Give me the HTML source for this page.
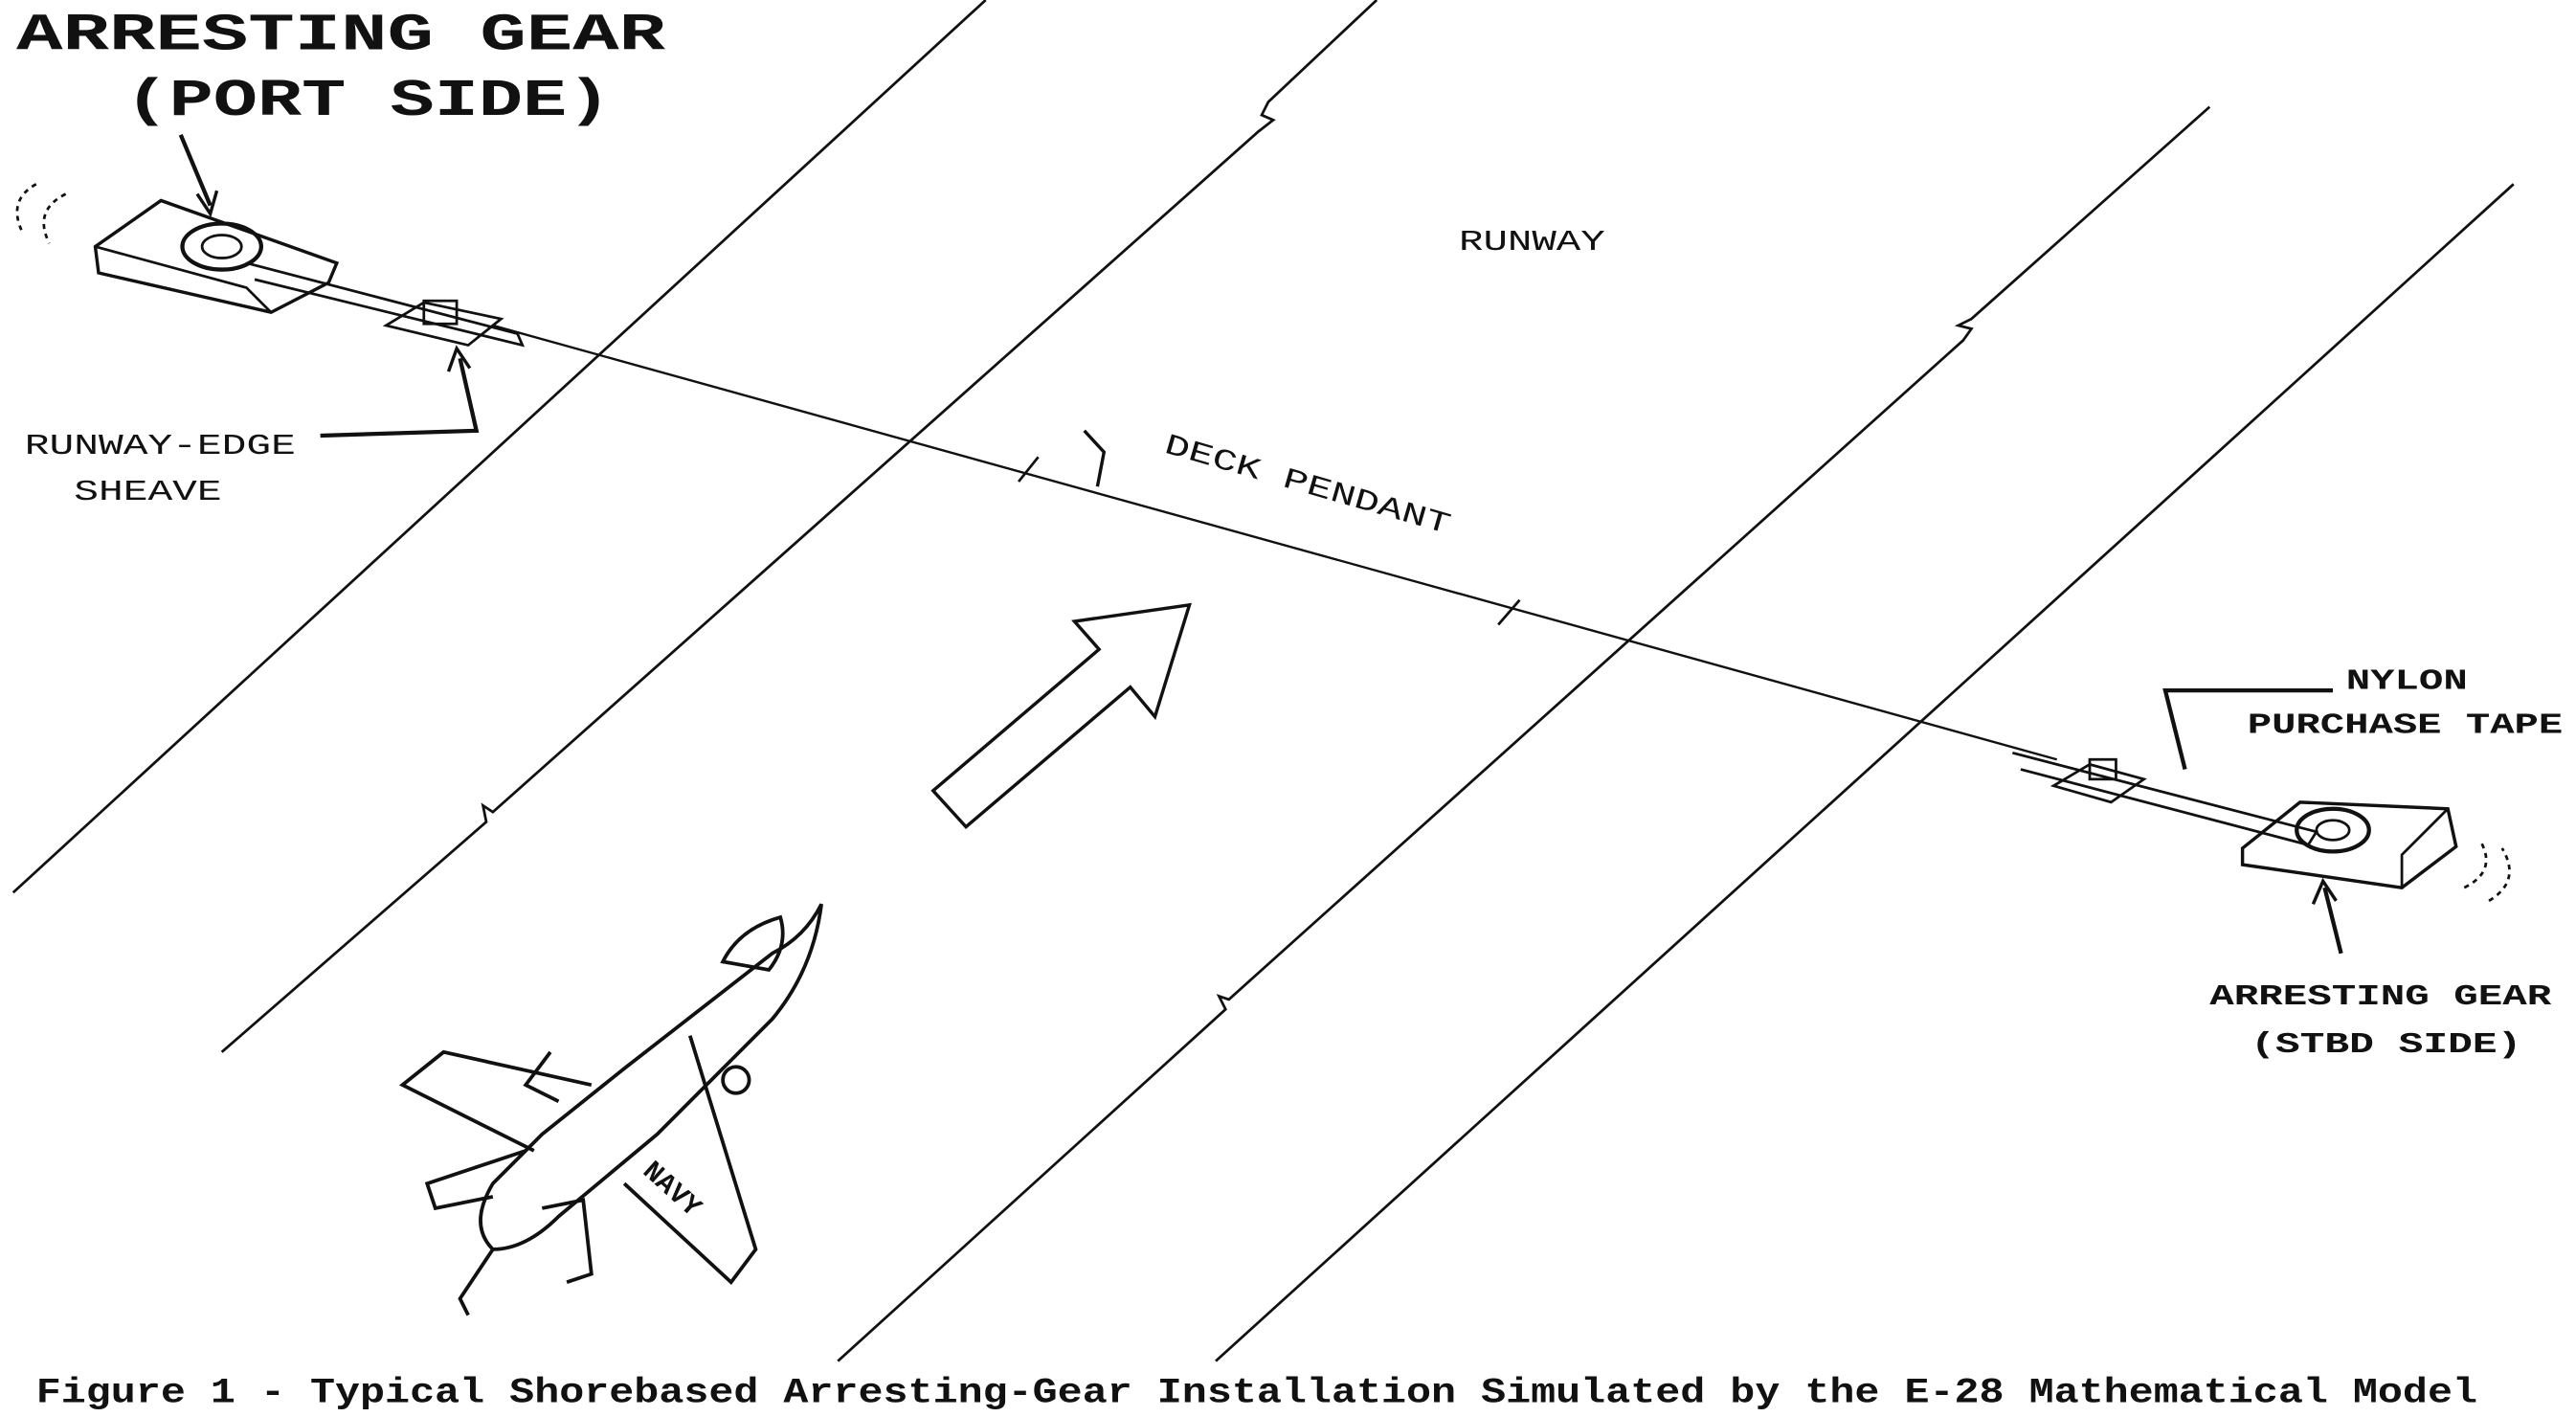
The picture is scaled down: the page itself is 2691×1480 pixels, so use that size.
<!DOCTYPE html>
<html><head><meta charset="utf-8"><style>
html,body{margin:0;padding:0;background:#fff;}
svg{display:block;}
text{font-family:"Liberation Mono","DejaVu Sans Mono",monospace;fill:#111;}
</style></head><body>
<svg width="2691" height="1480" viewBox="0 0 1568 862" preserveAspectRatio="none" xmlns="http://www.w3.org/2000/svg">
<rect width="1568" height="862" fill="#fff"/>
<g stroke="#111" stroke-width="1.6" fill="none">
<line x1="600" y1="0" x2="8" y2="543"/>
<polyline points="838,0 772,62 768,70 775,73 766,80 300,494 294,490 296,500 135,640"/>
<polyline points="1345,65 1200,194 1192,198 1200,200 1195,207 748,608 742,606 746,614 510,828"/>
<line x1="1530" y1="112" x2="740" y2="828"/>
<line x1="300" y1="198" x2="1252" y2="462" stroke-width="1.4"/>
<line x1="620" y1="293" x2="632" y2="278"/>
<line x1="912" y1="380" x2="925" y2="365"/>
<polygon points="568,481 669,395 654,378 724,368 703,436 688,418 588,503" stroke-width="2"/>
<polygon points="58,150 98,122 205,160 200,172 165,190 60,166" stroke-width="2"/>
<polyline points="58,150 150,175 165,190"/>
<ellipse cx="135" cy="150" rx="24" ry="14" stroke-width="2.5"/>
<ellipse cx="135" cy="150" rx="12" ry="7"/>
<polyline points="150,160 315,203 318,210 155,170"/>
<polygon points="235,198 258,184 305,194 285,210"/>
<rect x="258" y="183" width="20" height="14"/>
<path d="M40 118 q-20 10 -10 30 M22 112 q-18 10 -8 30" stroke-dasharray="3 3"/>
<path d="M110 82 L128 125" stroke-width="2.5"/>
<path d="M120 118 L128 130 L132 116" stroke-width="2"/>
<path d="M195 265 L290 262 L280 218" stroke-width="2.5"/>
<path d="M273 226 L278 212 L286 224" stroke-width="2"/>
<path d="M660 262 L672 275 L668 296" stroke-width="2"/>
<polygon points="1365,516 1400,488 1490,492 1495,515 1462,540 1365,526" stroke-width="2"/>
<polyline points="1462,540 1462,520 1490,492"/>
<ellipse cx="1420" cy="505" rx="22" ry="13" stroke-width="2.5"/>
<ellipse cx="1420" cy="505" rx="10" ry="6"/>
<polyline points="1225,458 1410,506 1405,514 1230,468"/>
<polygon points="1250,478 1272,465 1305,474 1285,488"/>
<rect x="1272" y="462" width="16" height="12"/>
<path d="M1500 540 q20 -10 10 -28 M1515 548 q20 -12 8 -32" stroke-dasharray="3 3"/>
<path d="M1420 420 L1318 420 L1330 468" stroke-width="2.5"/>
<path d="M1425 580 L1415 540" stroke-width="2.5"/>
<path d="M1408 550 L1414 536 L1422 548" stroke-width="2"/>
<g stroke-width="2.2">
<path d="M500 550 Q490 570 470 580 L380 650 L330 690 L300 720 Q285 745 300 760 Q320 760 340 740 L400 690 L470 620 Q495 590 500 550 Z"/>
<path d="M420 630 L460 760 L445 780 L380 720"/>
<path d="M360 660 L270 640 L245 660 L325 700"/>
<path d="M320 700 L260 720 L265 735 L300 728"/>
<path d="M330 735 L355 730 L360 775 L345 780"/>
<path d="M300 760 L280 790 L285 800"/>
<path d="M440 585 Q450 565 475 558 Q480 575 468 590 Z"/>
<circle cx="448" cy="657" r="8"/>
<path d="M335 640 L320 660 L340 670"/>
</g>
<text x="392" y="720" font-size="17" font-weight="bold" transform="rotate(42 400 715)" font-family="Liberation Sans" fill="#111" stroke="none">NAVY</text>
</g>
<text x="10" y="30" font-size="32" font-weight="bold" textLength="395" lengthAdjust="spacingAndGlyphs">ARRESTING GEAR</text>
<text x="76" y="70" font-size="32" font-weight="bold" textLength="296" lengthAdjust="spacingAndGlyphs">(PORT SIDE)</text>
<text x="888" y="152" font-size="18" textLength="89" lengthAdjust="spacingAndGlyphs">RUNWAY</text>
<text x="708" y="275" font-size="18" transform="rotate(16 708 275)" textLength="180" lengthAdjust="spacingAndGlyphs">DECK PENDANT</text>
<text x="15" y="276" font-size="18" textLength="165" lengthAdjust="spacingAndGlyphs">RUNWAY-EDGE</text>
<text x="45" y="304" font-size="18" textLength="90" lengthAdjust="spacingAndGlyphs">SHEAVE</text>
<text x="1428" y="419" font-size="18" font-weight="bold" textLength="74" lengthAdjust="spacingAndGlyphs">NYLON</text>
<text x="1368" y="446" font-size="18" font-weight="bold" textLength="192" lengthAdjust="spacingAndGlyphs">PURCHASE TAPE</text>
<text x="1345" y="611" font-size="18" font-weight="bold" textLength="208" lengthAdjust="spacingAndGlyphs">ARRESTING GEAR</text>
<text x="1370" y="640" font-size="18" font-weight="bold" textLength="165" lengthAdjust="spacingAndGlyphs">(STBD SIDE)</text>
<text x="22" y="853" font-size="21.5" font-weight="bold" textLength="1486" lengthAdjust="spacingAndGlyphs">Figure 1 - Typical Shorebased Arresting-Gear Installation Simulated by the E-28 Mathematical Model</text>
</svg>
</body></html>
